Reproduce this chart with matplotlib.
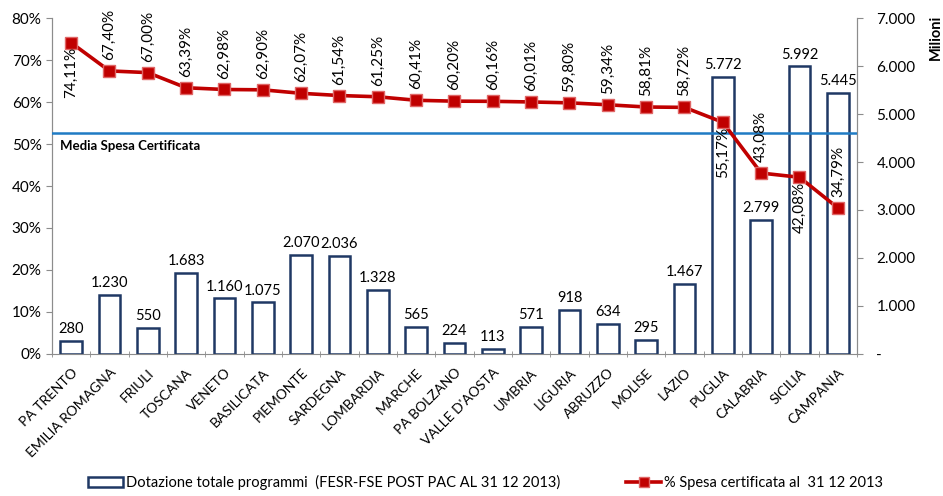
import numpy as np
import matplotlib
matplotlib.use("Agg")
import matplotlib.pyplot as plt
from matplotlib.lines import Line2D
from matplotlib.patches import Patch

plt.rcParams['font.family'] = ['Lato', 'DejaVu Sans']

regioni = ["PA TRENTO", "EMILIA ROMAGNA", "FRIULI", "TOSCANA", "VENETO", "BASILICATA",
           "PIEMONTE", "SARDEGNA", "LOMBARDIA", "MARCHE", "PA BOLZANO", "VALLE D'AOSTA",
           "UMBRIA", "LIGURIA", "ABRUZZO", "MOLISE", "LAZIO", "PUGLIA", "CALABRIA",
           "SICILIA", "CAMPANIA"]
dotazione = [280, 1230, 550, 1683, 1160, 1075, 2070, 2036, 1328, 565, 224, 113,
             571, 918, 634, 295, 1467, 5772, 2799, 5992, 5445]
spesa_pct = [74.11, 67.40, 67.00, 63.39, 62.98, 62.90, 62.07, 61.54, 61.25, 60.41,
             60.20, 60.16, 60.01, 59.80, 59.34, 58.81, 58.72, 55.17, 43.08, 42.08, 34.79]
media_spesa = 52.6
# labels placed under the marker for these regions
sotto = ["PA TRENTO", "PUGLIA", "SICILIA"]

n = len(regioni)
x = np.arange(n)

fig = plt.figure(figsize=(9.43, 4.96), dpi=100)
ax = fig.add_axes([0.0551, 0.2863, 0.8537, 0.6774])
ax2 = ax.twinx()

navy = "#1F3864"
red = "#C00000"
grey = "#8C8C8C"

# bars on the right axis (millions)
ax2.bar(x, dotazione, width=0.57, facecolor="white", edgecolor=navy, linewidth=1.8, zorder=2)
for xi, v in zip(x, dotazione):
    ax2.text(xi, v + 100, f"{v:,}".replace(",", "."), ha="center", va="bottom",
             fontsize=10.5, color="black")
ax2.set_ylim(0, 7000)
ax2.set_yticks(np.arange(0, 7001, 1000))
ax2.set_yticklabels(["-"] + [f"{v:,}".replace(",", ".") for v in range(1000, 7001, 1000)])
fig.text(0.992, 0.925, "Milioni", rotation=90, ha="center", va="center",
         fontsize=10.5, fontweight="bold")

# line on the left axis
ax.set_zorder(ax2.get_zorder() + 1)
ax.patch.set_visible(False)
ax.axhline(media_spesa, color="#1F7BC4", linewidth=1.8, zorder=3)
ax.text(-0.3, media_spesa - 1.6, "Media Spesa Certificata", fontsize=9.5, fontweight="bold",
        ha="left", va="top")
ax.plot(x, spesa_pct, color=red, linewidth=2.6, marker="s", markersize=8,
        markerfacecolor=red, markeredgecolor="#E06666", markeredgewidth=1, zorder=4)
for xi, v, r in zip(x, spesa_pct, regioni):
    s = f"{v:.2f}%".replace(".", ",")
    if r in sotto:
        ax.text(xi, v - 1.0, s, rotation=90, ha="center", va="top", fontsize=11, zorder=5)
    else:
        ax.text(xi, v + 2.6, s, rotation=90, ha="center", va="bottom", fontsize=11, zorder=5)

ax.set_ylim(0, 80)
ax.set_yticks(np.arange(0, 81, 10))
ax.set_yticklabels([f"{v}%" for v in range(0, 81, 10)])
ax.set_xlim(-0.5, n - 0.5)
ax.set_xticks(x)
ax.set_xticklabels(regioni, rotation=45, ha="right", rotation_mode="anchor", fontsize=10)
ax.set_xticks(np.arange(-0.5, n, 1), minor=True)
ax.tick_params(axis="x", which="major", length=0, pad=9)
ax.tick_params(axis="x", which="minor", length=5, color=grey, direction="inout")
ax.tick_params(axis="y", length=4, color=grey, labelsize=11)
ax2.tick_params(axis="y", length=4, color=grey, labelsize=11, pad=10)

for a in (ax, ax2):
    a.spines["top"].set_visible(False)
    for sp in ("left", "right", "bottom"):
        a.spines[sp].set_color(grey)
ax2.spines["bottom"].set_visible(False)

handles = [Patch(facecolor="white", edgecolor=navy, linewidth=1.8,
                 label="Dotazione totale programmi  (FESR-FSE POST PAC AL 31 12 2013)"),
           Line2D([0], [0], color=red, linewidth=2.6, marker="s", markersize=7,
                  markerfacecolor=red, markeredgecolor="#E06666",
                  label="% Spesa certificata al  31 12 2013")]
fig.legend(handles=handles, loc="lower center", bbox_to_anchor=(0.515, -0.015), ncol=2,
           frameon=False, fontsize=10.5, handlelength=2.4, columnspacing=4.5, handletextpad=0.2)

fig.savefig("out.png", dpi=100)
